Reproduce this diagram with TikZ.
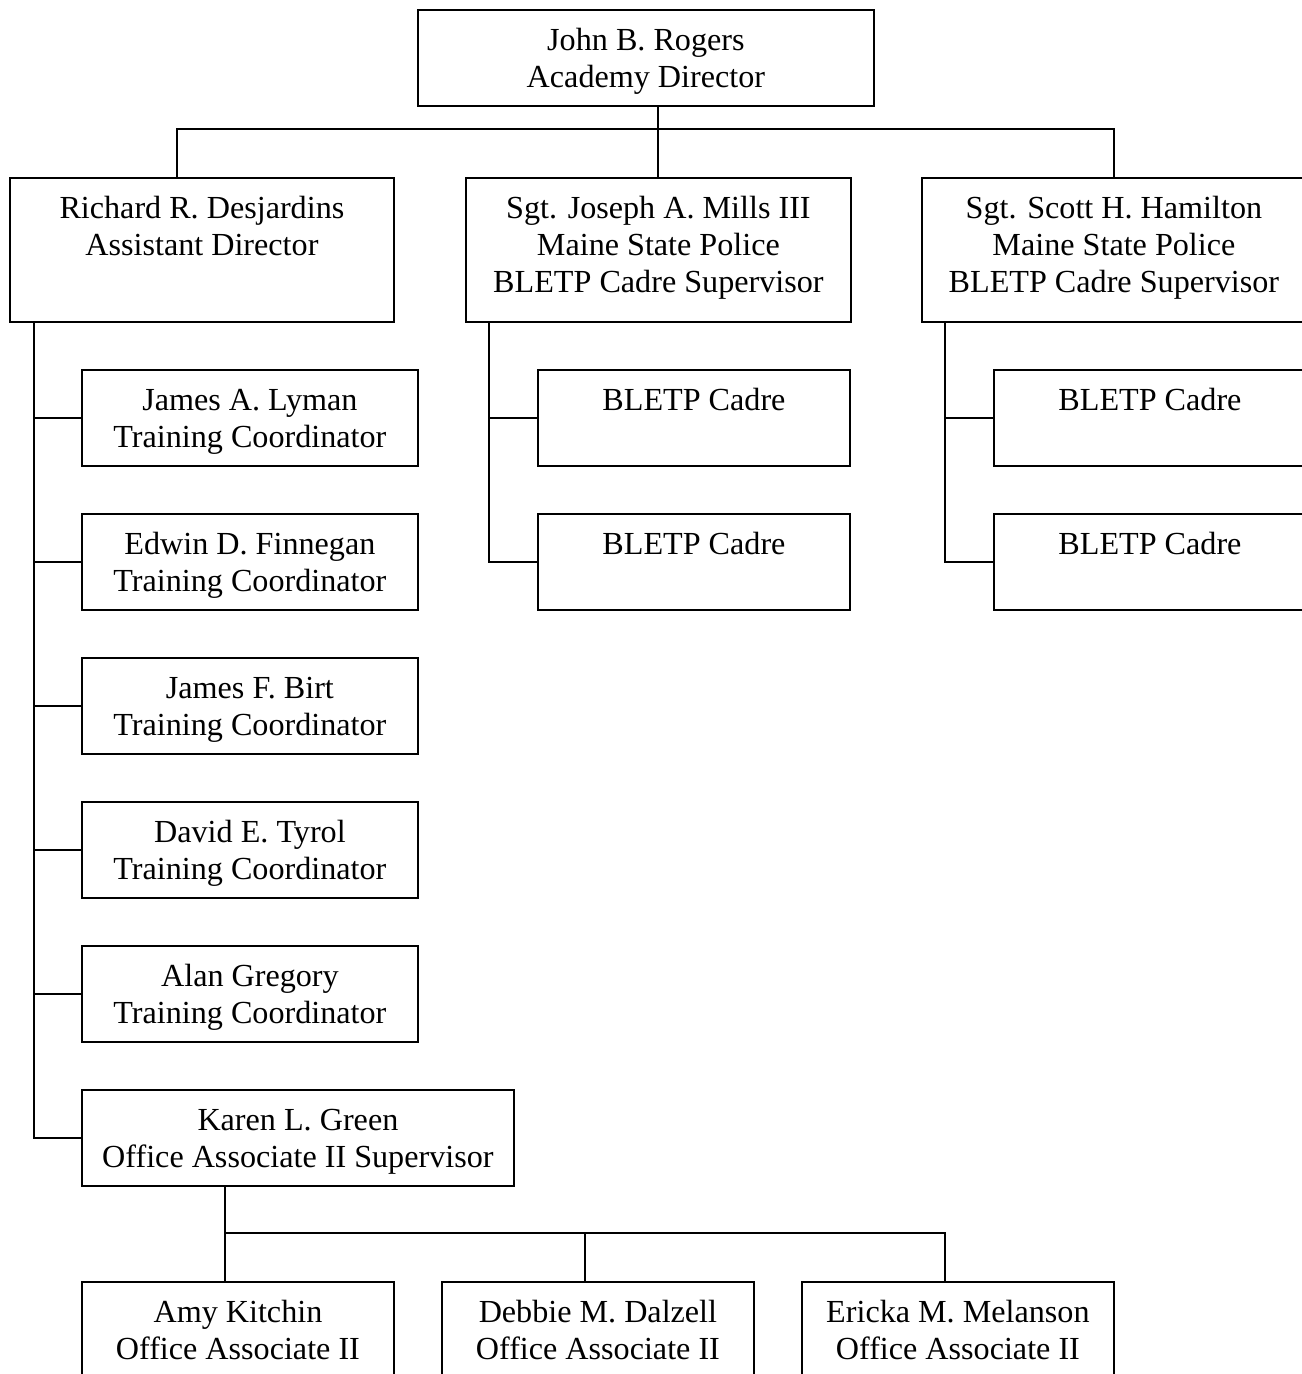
\documentclass[tikz,border=0pt]{standalone}
\usepackage{fontspec}
\setmainfont{Liberation Serif}
\tikzset{
  unit/.style={draw, line width=1.1pt, inner sep=0pt, anchor=north west},
  link/.style={line width=1.1pt}
}
% box text: width, height, lines
\newcommand{\orgtext}[3]{\parbox[t][#2][t]{#1}{\centering\fontsize{18.3}{21}\selectfont\rule{0pt}{0.82cm}#3}}
\begin{document}
\begin{tikzpicture}[x=0.02cm,y=-0.02cm]
  \useasboundingbox (0,0) rectangle (1302,1374);
  \clip (0,0) rectangle (1302,1374);
  %Director%
  \node[unit] (rogers) at (417,9) {\orgtext{9.12cm}{1.92cm}{John B. Rogers\\Academy Director}};
  %Second row%
  \node[unit] (desj) at (9,177) {\orgtext{7.68cm}{2.88cm}{Richard R. Desjardins\\Assistant Director}};
  \node[unit] (mills) at (465,177) {\orgtext{7.70cm}{2.88cm}{Sgt. Joseph A. Mills III\\Maine State Police\\BLETP Cadre Supervisor}};
  \node[unit] (hamilton) at (921,177) {\orgtext{7.68cm}{2.88cm}{Sgt. Scott H. Hamilton\\Maine State Police\\BLETP Cadre Supervisor}};
  %Coordinators%
  \node[unit] (lyman) at (81,369) {\orgtext{6.72cm}{1.92cm}{James A. Lyman\\Training Coordinator}};
  \node[unit] (finnegan) at (81,513) {\orgtext{6.72cm}{1.92cm}{Edwin D. Finnegan\\Training Coordinator}};
  \node[unit] (birt) at (81,657) {\orgtext{6.72cm}{1.92cm}{James F. Birt\\Training Coordinator}};
  \node[unit] (tyrol) at (81,801) {\orgtext{6.72cm}{1.92cm}{David E. Tyrol\\Training Coordinator}};
  \node[unit] (gregory) at (81,945) {\orgtext{6.72cm}{1.92cm}{Alan Gregory\\Training Coordinator}};
  \node[unit] (green) at (81,1089) {\orgtext{8.64cm}{1.92cm}{Karen L. Green\\Office Associate II Supervisor}};
  %Cadre%
  \node[unit] (cadreA) at (537,369) {\orgtext{6.24cm}{1.92cm}{BLETP Cadre}};
  \node[unit] (cadreB) at (537,513) {\orgtext{6.24cm}{1.92cm}{BLETP Cadre}};
  \node[unit] (cadreC) at (993,369) {\orgtext{6.24cm}{1.92cm}{BLETP Cadre}};
  \node[unit] (cadreD) at (993,513) {\orgtext{6.24cm}{1.92cm}{BLETP Cadre}};
  %Office associates%
  \node[unit] (kitchin) at (81,1281) {\orgtext{6.24cm}{1.92cm}{Amy Kitchin\\Office Associate II}};
  \node[unit] (dalzell) at (441,1281) {\orgtext{6.24cm}{1.92cm}{Debbie M. Dalzell\\Office Associate II}};
  \node[unit] (melanson) at (801,1281) {\orgtext{6.24cm}{1.92cm}{Ericka M. Melanson\\Office Associate II}};

  %Top bus%
  \coordinate (bus) at (657,129);
  \coordinate (desjup) at ([xshift=3.36cm]desj.north west);
  \draw[link] (mills.north |- rogers.south) -- (mills.north);
  \draw[link] (desjup) |- (hamilton.north |- bus) -- (hamilton.north);
  %Spines%
  \coordinate (spineD) at ([xshift=0.5cm]desj.south west);
  \coordinate (spineM) at ([xshift=0.48cm]mills.south west);
  \coordinate (spineH) at ([xshift=0.48cm]hamilton.south west);
  \draw[link] (spineD) |- (green.west);
  \foreach \n in {lyman,finnegan,birt,tyrol,gregory}
    \draw[link] (spineD |- \n.west) -- (\n.west);
  \draw[link] (spineM) |- (cadreB.west);
  \draw[link] (spineM |- cadreA.west) -- (cadreA.west);
  \draw[link] (spineH) |- (cadreD.west);
  \draw[link] (spineH |- cadreC.west) -- (cadreC.west);
  %Office bus%
  \coordinate (kbus) at (0,1233);
  \coordinate (kitchinup) at ([xshift=2.88cm]kitchin.north west);
  \coordinate (dalzellup) at ([xshift=2.88cm]dalzell.north west);
  \coordinate (melansonup) at ([xshift=2.88cm]melanson.north west);
  \draw[link] ([xshift=2.88cm]green.south west) -- (kitchinup);
  \draw[link] (kitchinup |- kbus) -| (melansonup);
  \draw[link] (dalzellup |- kbus) -- (dalzellup);
\end{tikzpicture}
\end{document}
